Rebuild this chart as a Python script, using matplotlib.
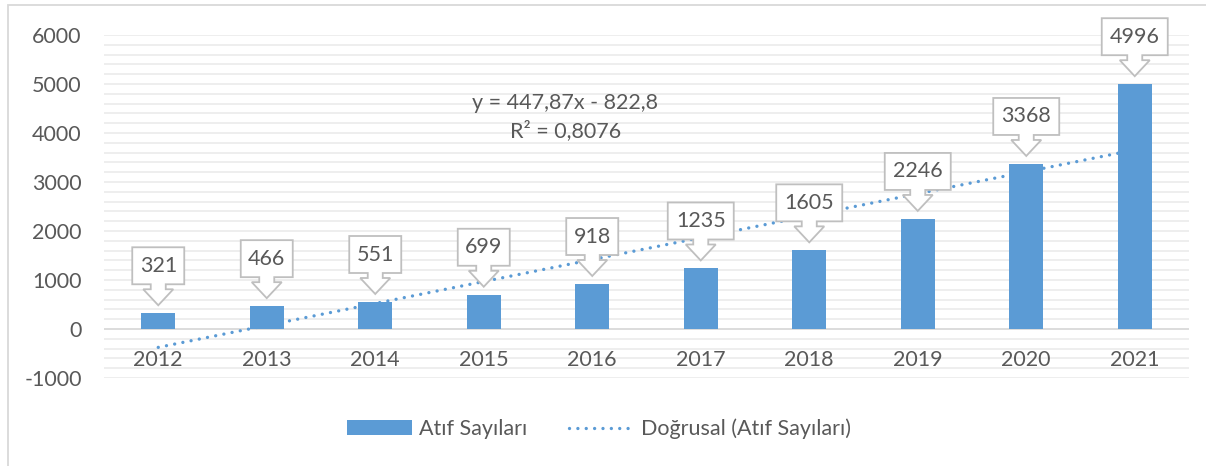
import numpy as np
import matplotlib
matplotlib.use("Agg")
import matplotlib.pyplot as plt
from matplotlib.patches import Polygon, Rectangle
import matplotlib.transforms as mtransforms

plt.rcParams['font.family'] = ['Lato', 'DejaVu Sans']
plt.rcParams['axes.unicode_minus'] = False

years = ["2012", "2013", "2014", "2015", "2016", "2017", "2018", "2019", "2020", "2021"]
citations = [321, 466, 551, 699, 918, 1235, 1605, 2246, 3368, 4996]
trend_slope = 447.87
trend_intercept = -822.8
equation_text = "y = 447,87x - 822,8\nR² = 0,8076"

bar_color = "#5B9BD5"
text_color = "#595959"
fs = 15.5

fig = plt.figure(figsize=(12.06, 4.66), dpi=100)
ax = fig.add_axes([104 / 1206, 1 - 378 / 466, (1189 - 104) / 1206, (378 - 35) / 466])

x = np.arange(len(years))
bars = ax.bar(x, citations, width=0.315, color=bar_color, zorder=3, label="Atıf Sayıları")

# trend line (Excel numbers x from 1)
trend = trend_slope * (x + 1) + trend_intercept
line, = ax.plot(x, trend, color=bar_color, lw=2.4, linestyle=(0, (0.01, 2.5)),
                dash_capstyle='round', zorder=4, label="Doğrusal (Atıf Sayıları)")

ax.set_xlim(-0.5, len(years) - 0.5)
ax.set_ylim(-1000, 6000)
ax.set_yticks(np.arange(-1000, 6001, 1000))
for gy in np.arange(-1000, 6001, 200):
    if gy != 0:
        ax.axhline(gy, color='#EDEDED', lw=1.3, zorder=0)
ax.axhline(0, color='#D9D9D9', lw=1.3, zorder=1)
for s in ax.spines.values():
    s.set_visible(False)
ax.spines['bottom'].set_position(('data', 0))
ax.set_xticks(x)
ax.set_xticklabels(years)
ax.tick_params(axis='both', which='both', length=0, labelsize=fs, labelcolor=text_color)
ax.tick_params(axis='y', pad=16)
ax.tick_params(axis='x', pad=15)

# callout labels
for xi, v in zip(x, citations):
    hw = 26 if v < 1000 else 33
    pts = np.array([(0, 8), (15, 24), (7.5, 24), (7.5, 29), (hw, 29), (hw, 66),
                    (-hw, 66), (-hw, 29), (-7.5, 29), (-7.5, 24), (-15, 24)]) / 100.0
    tr = fig.dpi_scale_trans + mtransforms.ScaledTranslation(xi, v, ax.transData)
    ax.add_patch(Polygon(pts, closed=True, transform=tr, facecolor='white',
                         edgecolor='#BFBFBF', lw=1.3, zorder=5, clip_on=False))
    ax.annotate(str(v), xy=(xi, v), xytext=(0, 47.5 * 0.72), textcoords='offset points',
                ha='center', va='center', fontsize=fs, color=text_color, zorder=6)

ax.text(3.75, 4320, equation_text, ha='center', va='center', fontsize=fs,
        color=text_color, linespacing=1.45, zorder=6)

fig.legend([bars, line], ["Atıf Sayıları", "Doğrusal (Atıf Sayıları)"],
           loc='center', bbox_to_anchor=(0.4967, 1 - 429 / 466), ncol=2, frameon=False,
           fontsize=fs, labelcolor=text_color, handlelength=3.0, handleheight=0.67,
           handletextpad=0.35, columnspacing=1.9)

# chart border (cropped on the right and bottom)
fig.add_artist(Rectangle((8 / 1206, -0.1), 1.2, 1.1 - 5 / 466, transform=fig.transFigure,
                         fill=False, edgecolor='#D9D9D9', lw=1.3))

fig.savefig("out.png", dpi=100)
